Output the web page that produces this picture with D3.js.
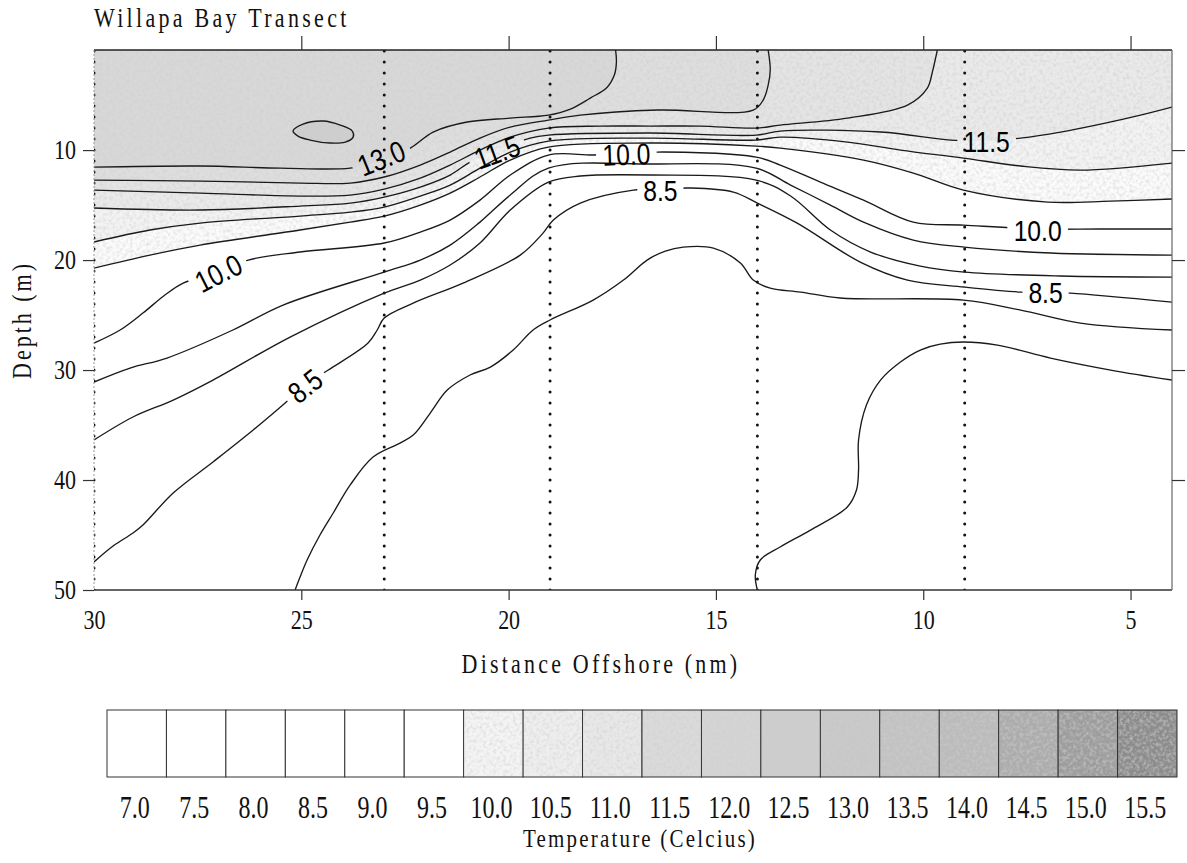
<!DOCTYPE html>
<html><head><meta charset="utf-8">
<script src="https://cdn.jsdelivr.net/npm/d3@7"></script>
<style>
html,body{margin:0;padding:0;background:#fff;}
svg{display:block;}
</style></head><body>
<svg id="chart" width="1187" height="863"></svg>
<script>
// ---------------- data ----------------
const xTicks = [30, 25, 20, 15, 10, 5];
const yTicks = [10, 20, 30, 40, 50];
const stations = [30, 23, 19, 14, 9];
const sampleDepths = [1,2,3,4,5,6,7,8,9,10,11,12,13,14,15,16,17,18,19,20,21,22,23,24,25,26,27,28,29,30,31,32,33,34,35,36,37,38,39,40,41,42,43,44,45,46,47,48,49,50];

const legendTemps = ["7.0","7.5","8.0","8.5","9.0","9.5","10.0","10.5","11.0","11.5","12.0","12.5","13.0","13.5","14.0","14.5","15.0","15.5"];
const legendColors = ["#ffffff","#ffffff","#ffffff","#ffffff","#ffffff","#ffffff","#f4f4f4","#eeeeee","#e8e8e8","#dadada","#d4d4d4","#cdcdcd","#c8c8c8","#c2c2c2","#bbbbbb","#acacac","#9d9d9d","#8c8c8c"];

const shadeLevels = [10.0, 10.5, 11.0, 11.5, 12.0, 12.5, 13.0, 13.5];
const shadeColors = ["#ffffff","#fbfbfb","#f3f3f3","#eaeaea","#e4e4e4","#dedede","#d8d8d8","#cecece"];

// contour lines: [distance offshore (nm), depth (m)]
const c130 = [[30,11.55],[27.44,11.45],[25.51,11.64],[23.82,11.64],[23.1,11.0],[22.37,9.82],[21.82,8.36],[21.0,7.45],[19.96,7.09],[19.04,6.82],[18.51,6.27],[18.03,5.27],[17.64,4.36],[17.45,3.18],[17.4,2.0],[17.42,0.9]];
const c125 = [[30,12.73],[27.44,12.82],[25.03,13.0],[23.82,13.0],[23.0,12.45],[22.13,11.36],[21.41,10.18],[20.69,8.91],[19.96,7.91],[19.04,7.27],[18.27,6.82],[16.41,6.36],[14.1,6.36],[13.86,5.45],[13.74,4.1],[13.69,2.73],[13.74,0.9]];
const c120 = [[30,13.64],[27.44,13.91],[25.03,14.18],[23.82,14.09],[23.0,13.55],[22.13,12.55],[21.41,11.36],[20.69,10.0],[19.96,8.82],[19.04,8.0],[17.79,7.82],[16.58,7.82],[15.38,7.82],[14.03,8.0],[13.45,7.73],[11.83,7.09],[10.38,5.91],[9.9,4.36],[9.78,2.91],[9.66,0.9]];
const c115 = [[30,15.27],[27.44,15.45],[25.03,15.09],[23.82,14.82],[23.0,14.27],[22.13,13.36],[21.41,12.27],[20.93,11.09],[20.28,10.0],[19.48,8.91],[19.04,8.64],[16.58,8.45],[14.03,8.64],[13.45,8.27],[11.03,8.36],[9.34,9.09],[8.47,9.18],[7.65,8.91],[6.69,8.36],[5.72,7.64],[4.76,6.82],[4.0,6.09]];
const c110 = [[30,18.36],[28.65,17.27],[27.44,16.64],[25.03,16.0],[23.82,15.64],[23.0,15.18],[22.13,14.18],[21.41,13.18],[20.69,11.64],[19.96,10.18],[19.04,9.18],[16.58,8.91],[14.03,9.09],[13.45,8.82],[11.83,9.27],[10.55,10.0],[9.03,10.73],[7.65,11.45],[6.21,11.82],[4.0,11.18]];
const c105 = [[30,20.73],[28.65,19.55],[27.44,18.64],[25.03,17.27],[23.82,16.55],[23.0,16.0],[22.13,15.0],[21.41,13.91],[20.69,12.45],[19.96,10.91],[19.04,9.73],[16.58,9.36],[14.03,9.64],[13.45,9.82],[11.44,10.91],[10.24,12.09],[9.03,13.64],[7.0,14.73],[5.48,14.64],[4.0,14.45]];
const c100 = [[30,27.55],[29.37,26.36],[28.82,24.82],[28.29,23.18],[27.85,22.09],[27.0,21.09],[26.28,20.0],[25.03,19.27],[23.0,18.45],[22.13,17.45],[21.41,16.36],[20.69,14.55],[19.96,12.27],[19.04,10.45],[17.96,10.45],[17.16,10.36],[16.41,10.18],[14.03,10.64],[13.45,11.36],[12.48,12.91],[11.44,14.55],[10.24,16.55],[9.03,16.82],[7.24,17.18],[5.72,17.18],[4.0,17.18]];
const c095 = [[30,31.09],[29.13,29.82],[28.24,28.91],[26.65,26.36],[25.44,24.09],[23.0,21.09],[22.13,20.0],[21.41,18.64],[20.69,16.55],[19.96,14.09],[19.04,11.64],[16.58,11.27],[14.03,11.64],[13.2,13.18],[12.24,15.0],[11.44,16.55],[10.24,18.18],[9.01,18.82],[6.93,19.36],[4.0,19.55]];
const c090 = [[30,36.36],[29.06,34.27],[28.09,32.73],[27.13,30.91],[25.27,27.0],[23.0,23.0],[22.13,21.82],[21.41,20.45],[20.69,18.45],[19.96,15.45],[19.04,12.91],[18.27,12.36],[16.58,12.27],[14.03,12.73],[13.2,14.18],[12.24,17.27],[11.27,19.27],[10.07,20.55],[9.01,21.09],[6.69,21.45],[4.0,21.55]];
const c085 = [[30,47.45],[29.54,46.0],[29.06,44.82],[28.82,44.09],[28.09,41.18],[27.13,38.36],[26.16,35.45],[25.39,33.0],[24.91,31.36],[24.35,30.0],[23.39,27.55],[23.17,26.36],[23.0,25.27],[22.3,23.91],[21.1,22.09],[19.72,19.55],[19.17,17.55],[18.92,16.36],[18.27,14.82],[16.99,13.64],[16.34,13.55],[15.62,13.45],[14.58,13.82],[14.0,14.82],[13.04,16.64],[11.52,20.18],[10.38,21.82],[9.01,22.45],[7.65,22.91],[7.05,22.91],[6.45,23.0],[4.0,23.82]];
const c080 = [[25.15,50],[25.03,48.82],[24.86,47.27],[24.55,45.0],[24.23,43.0],[23.82,40.45],[23.27,37.91],[22.62,36.64],[22.3,35.91],[21.89,33.91],[21.48,31.82],[20.93,30.45],[20.44,29.73],[19.89,28.18],[19.41,26.36],[19.0,25.45],[17.96,23.64],[17.23,21.82],[16.66,20.0],[16.22,19.18],[15.79,18.82],[15.06,18.91],[14.41,20.27],[14.1,21.82],[13.69,22.55],[12.96,22.91],[12.0,23.45],[9.03,23.64],[7.65,24.55],[6.21,25.73],[4.0,26.36]];
const c075 = [[14.0,50],[14.05,48.64],[13.93,47.27],[13.45,46.09],[12.72,44.55],[11.83,42.45],[11.61,40.91],[11.56,39.09],[11.56,36.36],[11.37,33.18],[11.03,30.91],[10.55,29.27],[10.07,28.18],[9.59,27.64],[9.03,27.45],[8.21,27.73],[6.93,28.91],[5.48,30.0],[4.0,30.91]];
const c135 = [[25.2,8.27],[24.96,7.64],[24.47,7.36],[24.06,7.73],[23.77,8.27],[23.75,8.82],[23.94,9.27],[24.31,9.36],[24.79,9.09],[25.08,8.73]];

const labelText  = ["13.0","11.5","10.0","8.5","10.0","8.5","11.5","10.0","8.5"];
const labelLevel = [13.0, 11.5, 10.0, 8.5, 10.0, 8.5, 11.5, 10.0, 8.5];
const labelDist  = [23.07, 20.28, 27.0, 24.91, 17.16, 16.34, 8.47, 7.24, 7.05];
const labelDepth = [10.73, 10.18, 21.18, 31.45, 10.36, 13.64, 9.18, 17.27, 22.91];
const labelAngle = [-22, -20, -27, -38, -2, 0, 0, 0, 0];

// ---------------- drawing ----------------
const W = 1187, H = 863;
const svg = d3.select("#chart");
const x = d3.scaleLinear().domain([30, 4]).range([94, 1172]);
const y = d3.scaleLinear().domain([0.9, 50]).range([50, 590]);
const serif = '"Liberation Serif","DejaVu Serif",serif';
const sans = '"Liberation Sans",Arial,sans-serif';

function stretch(sel, s) {
  sel.each(function () {
    const t = d3.select(this);
    const x0 = +t.attr("x") || 0, y0 = +t.attr("y") || 0;
    t.attr("transform", `translate(${x0},${y0}) scale(1,${s}) translate(${-x0},${-y0})`);
  });
}

const defs = svg.append("defs");
defs.append("clipPath").attr("id", "plotclip").append("rect")
  .attr("x", x(30)).attr("y", y(0.9)).attr("width", x(4) - x(30)).attr("height", y(50) - y(0.9));

const grain = defs.append("filter").attr("id", "grain").attr("x", 0).attr("y", 0).attr("width", "100%").attr("height", "100%");
grain.append("feTurbulence").attr("type", "fractalNoise").attr("baseFrequency", 0.3).attr("numOctaves", 3).attr("seed", 5).attr("result", "noise");
grain.append("feColorMatrix").attr("in", "noise").attr("type", "matrix")
  .attr("values", "0 0 0 0 0.62  0 0 0 0 0.62  0 0 0 0 0.62  0 0 0 1.3 -0.52").attr("result", "dark");
grain.append("feComposite").attr("in", "dark").attr("in2", "SourceGraphic").attr("operator", "in").attr("result", "darkIn");
const fm = grain.append("feMerge");
fm.append("feMergeNode").attr("in", "SourceGraphic");
fm.append("feMergeNode").attr("in", "darkIn");

const line = d3.line().x(d => x(d[0])).y(d => y(d[1])).curve(d3.curveCatmullRom.alpha(0.5));
const closedLine = d3.line().x(d => x(d[0])).y(d => y(d[1])).curve(d3.curveCatmullRomClosed.alpha(0.5));

const contours = [
  {level: 13.0, pts: c130, close: "top"},
  {level: 12.5, pts: c125, close: "top"},
  {level: 12.0, pts: c120, close: "top"},
  {level: 11.5, pts: c115, close: "right"},
  {level: 11.0, pts: c110, close: "right"},
  {level: 10.5, pts: c105, close: "right"},
  {level: 10.0, pts: c100, close: "right"},
  {level: 9.5, pts: c095},
  {level: 9.0, pts: c090},
  {level: 8.5, pts: c085},
  {level: 8.0, pts: c080},
  {level: 7.5, pts: c075}
];

const plot = svg.append("g").attr("clip-path", "url(#plotclip)");
const fills = plot.append("g").attr("filter", "url(#grain)");
contours.filter(c => c.close && c.level >= 10.5).sort((a, b) => a.level - b.level).forEach(c => {
  let d = line(c.pts);
  if (c.close === "right") d += `L${x(4)},${y(0.9)}`;
  d += `L${x(30)},${y(0.9)}Z`;
  fills.append("path").attr("d", d).attr("fill", shadeColors[shadeLevels.indexOf(c.level)]);
});
fills.append("path").attr("d", closedLine(c135)).attr("fill", shadeColors[shadeLevels.indexOf(13.5)]);

const LFS = 26;
const meas = svg.append("text").attr("font-family", sans).attr("font-size", LFS).attr("visibility", "hidden");
const labelW = labelText.map(t => { meas.text(t); return meas.node().getComputedTextLength(); });
meas.remove();

contours.forEach((c, i) => {
  const idx = labelLevel.map((l, j) => l === c.level ? j : -1).filter(j => j >= 0);
  if (!idx.length) return;
  const m = defs.append("mask").attr("id", "mask" + i).attr("maskUnits", "userSpaceOnUse")
    .attr("x", 0).attr("y", 0).attr("width", W).attr("height", H);
  m.append("rect").attr("x", 0).attr("y", 0).attr("width", W).attr("height", H).attr("fill", "#fff");
  idx.forEach(j => {
    const cx = x(labelDist[j]), cy = y(labelDepth[j]), w = labelW[j] + 10;
    m.append("rect").attr("x", cx - w / 2).attr("y", cy - 13).attr("width", w).attr("height", 26)
      .attr("fill", "#000").attr("transform", `rotate(${labelAngle[j]},${cx},${cy})`);
  });
  c.mask = "url(#mask" + i + ")";
});

const dots = plot.append("g");
stations.forEach(s => {
  dots.selectAll(null).data(sampleDepths).join("circle")
    .attr("cx", x(s)).attr("cy", d => y(d)).attr("r", 1.5).attr("fill", "#111");
});

const lines = plot.append("g").attr("fill", "none").attr("stroke", "#1a1a1a").attr("stroke-width", 1.35);
contours.forEach(c => {
  const p = lines.append("path").attr("d", line(c.pts));
  if (c.mask) p.attr("mask", c.mask);
});
lines.append("path").attr("d", closedLine(c135));

svg.append("g").selectAll("text").data(labelText).join("text")
  .attr("transform", (d, i) => `translate(${x(labelDist[i])},${y(labelDepth[i])}) rotate(${labelAngle[i]}) scale(0.95,1.15)`)
  .attr("text-anchor", "middle").attr("dy", "0.36em")
  .attr("font-family", sans).attr("font-size", LFS).attr("fill", "#000")
  .text(d => d);

const frame = svg.append("g").attr("fill", "none");
frame.append("line").attr("x1", x(30)).attr("x2", x(4)).attr("y1", y(0.9)).attr("y2", y(0.9)).attr("stroke", "#222").attr("stroke-width", 1.6);
frame.append("line").attr("x1", x(30)).attr("x2", x(4)).attr("y1", y(50)).attr("y2", y(50)).attr("stroke", "#333").attr("stroke-width", 1.6);
frame.append("line").attr("x1", x(4)).attr("x2", x(4)).attr("y1", y(0.9)).attr("y2", y(50)).attr("stroke", "#666").attr("stroke-width", 1.2);
frame.append("line").attr("x1", x(30)).attr("x2", x(30)).attr("y1", y(0.9)).attr("y2", y(50)).attr("stroke", "#999").attr("stroke-width", 1).attr("stroke-dasharray", "2,2");

function styleAxis(g) {
  g.select(".domain").remove();
  g.selectAll(".tick line").attr("stroke", "#333").attr("stroke-width", 1.2);
  g.selectAll(".tick text").attr("font-family", serif).attr("font-size", 22).attr("fill", "#111");
}
const ly = svg.append("g").attr("transform", `translate(${x(30)},0)`)
  .call(d3.axisLeft(y).tickValues(yTicks).tickSize(11).tickPadding(7)).call(styleAxis);
ly.selectAll(".tick text").call(stretch, 1.25);
const bx = svg.append("g").attr("transform", `translate(0,${y(50)})`)
  .call(d3.axisBottom(x).tickValues(xTicks).tickSize(10).tickPadding(9)).call(styleAxis);
bx.selectAll(".tick line").filter(d => d === 30).remove();
bx.selectAll(".tick text").call(stretch, 1.25);
svg.append("g").attr("transform", `translate(0,${y(0.9)})`)
  .call(d3.axisTop(x).tickValues(xTicks.slice(1)).tickSize(14).tickFormat("")).call(styleAxis);
svg.append("g").attr("transform", `translate(${x(4)},0)`)
  .call(d3.axisRight(y).tickValues(yTicks.slice(0, 4)).tickSize(13).tickFormat("")).call(styleAxis);

svg.append("text").attr("x", 94).attr("y", 27).attr("font-family", serif).attr("font-size", 22)
  .attr("letter-spacing", 3.3).attr("fill", "#111").text("Willapa Bay Transect").call(stretch, 1.2);
svg.append("text").attr("transform", "translate(22,320) rotate(-90) scale(1,1.2)").attr("text-anchor", "middle").attr("dy", "0.35em")
  .attr("font-family", serif).attr("font-size", 22).attr("letter-spacing", 3).attr("fill", "#111").text("Depth (m)");
svg.append("text").attr("x", 601).attr("y", 673).attr("text-anchor", "middle")
  .attr("font-family", serif).attr("font-size", 22).attr("letter-spacing", 3.2).attr("fill", "#111").text("Distance Offshore (nm)").call(stretch, 1.2);

const lx = d3.scaleBand().domain(legendTemps).range([107, 1177]).padding(0);
const leg = svg.append("g");
leg.selectAll("rect").data(legendTemps).join("rect")
  .attr("x", d => lx(d)).attr("y", 710).attr("width", lx.bandwidth()).attr("height", 67)
  .attr("fill", (d, i) => legendColors[i]).attr("stroke", "#333").attr("stroke-width", 1);
leg.append("g").attr("filter", "url(#grain)").selectAll("rect").data(legendTemps.slice(6)).join("rect")
  .attr("x", d => lx(d) + 1).attr("y", 711).attr("width", lx.bandwidth() - 2).attr("height", 65)
  .attr("fill", (d, i) => legendColors[i + 6]);
leg.selectAll("text").data(legendTemps).join("text")
  .attr("x", d => lx(d) + lx.bandwidth() / 2 - 2).attr("y", 818).attr("text-anchor", "middle")
  .attr("font-family", serif).attr("font-size", 24).attr("fill", "#111").text(d => d).call(stretch, 1.3);
svg.append("text").attr("x", 640).attr("y", 847).attr("text-anchor", "middle")
  .attr("font-family", serif).attr("font-size", 21).attr("letter-spacing", 2.2).attr("fill", "#111").text("Temperature (Celcius)").call(stretch, 1.2);
</script>
</body></html>
